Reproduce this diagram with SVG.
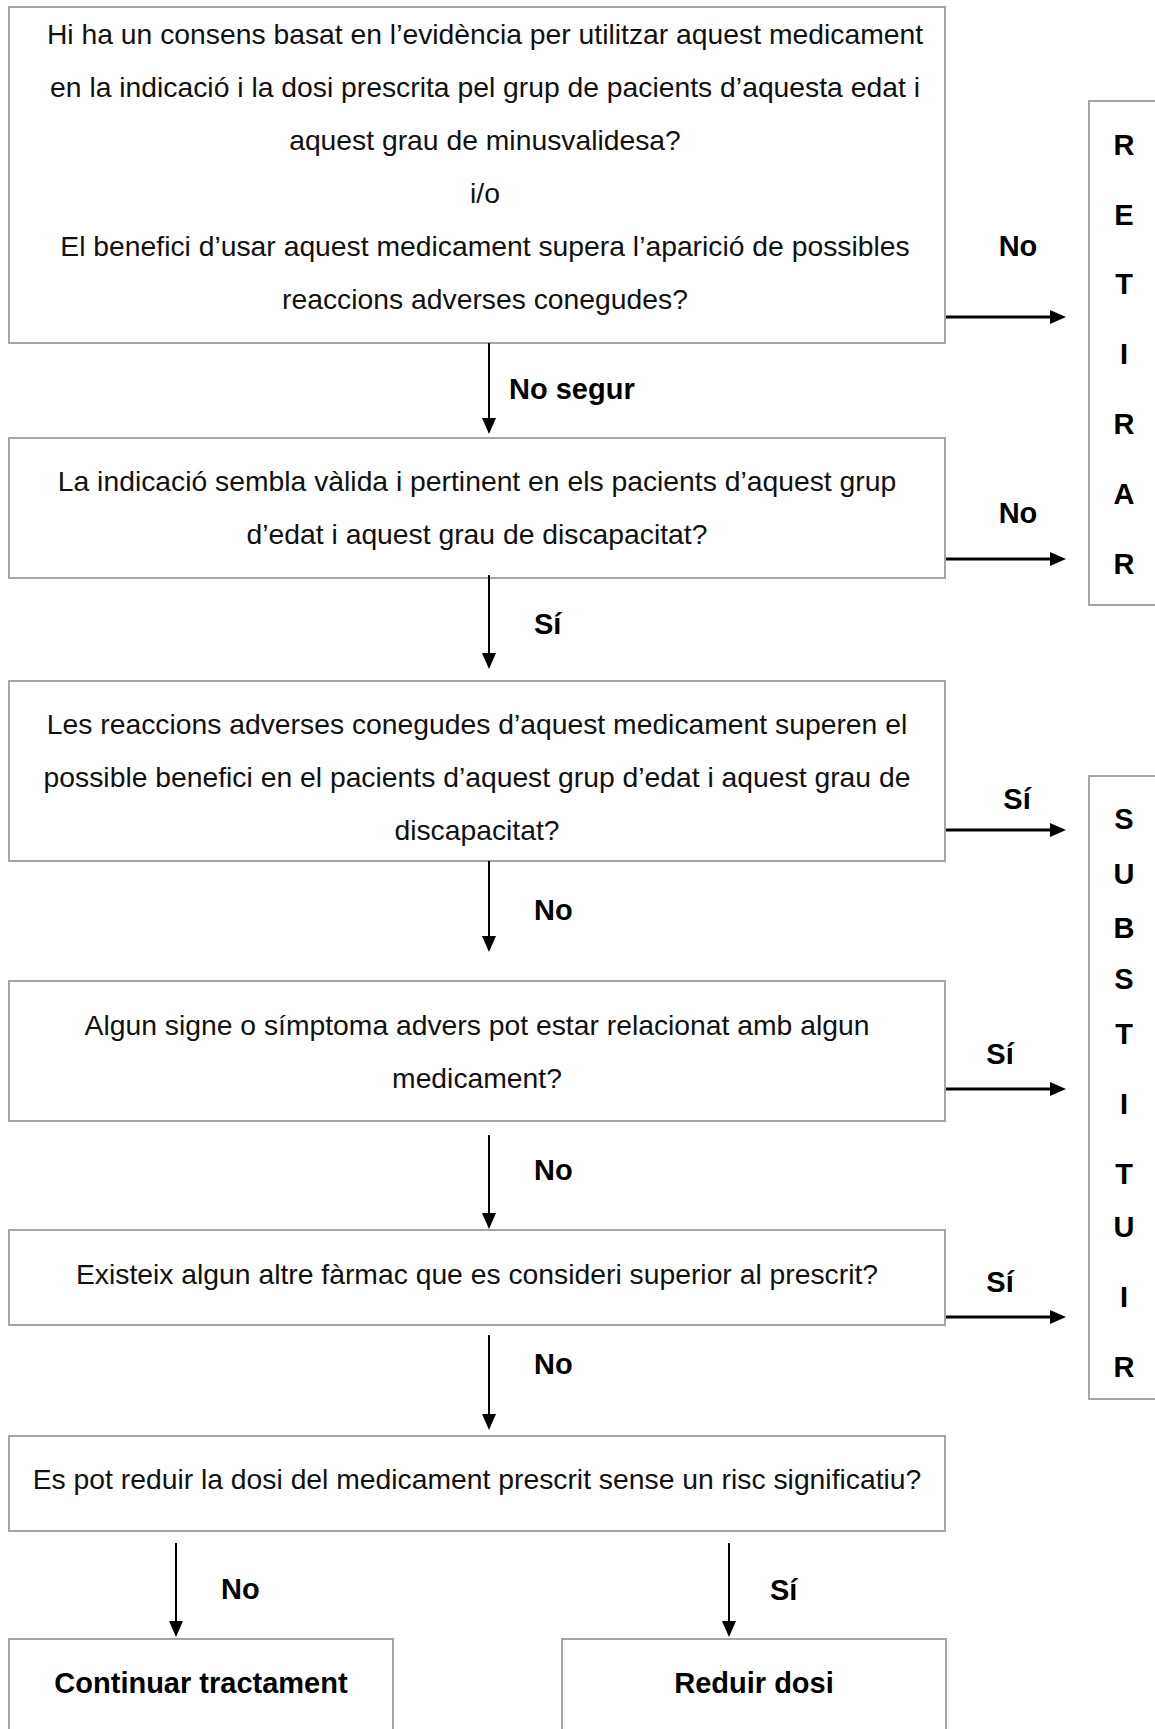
<svg xmlns="http://www.w3.org/2000/svg" width="1155" height="1729" viewBox="0 0 1155 1729">
<style>
.box{fill:#ffffff;stroke:#a6a6a6;stroke-width:2}
.t{font-family:"Liberation Sans",Arial,sans-serif;font-size:28.3px;fill:#111;text-anchor:middle}
.b{font-family:"Liberation Sans",Arial,sans-serif;font-size:29px;font-weight:bold;fill:#000}
.c{text-anchor:middle}
.ah{stroke:#000;stroke-width:3;fill:none}
.av{stroke:#000;stroke-width:2;fill:none}
</style>
<defs>
<marker id="arr" viewBox="0 0 16 14" refX="8" refY="7" markerWidth="16" markerHeight="14" markerUnits="userSpaceOnUse" orient="auto">
<path d="M0,0 L16,7 L0,14 Z" fill="#000"/>
</marker>
</defs>
<rect width="1155" height="1729" fill="#ffffff"/>

<g id="n1">
<rect class="box" x="9" y="7" width="936" height="336"/>
<text class="t" x="485" y="44">Hi ha un consens basat en l’evidència per utilitzar aquest medicament</text>
<text class="t" x="485" y="97">en la indicació i la dosi prescrita pel grup de pacients d’aquesta edat i</text>
<text class="t" x="485" y="150">aquest grau de minusvalidesa?</text>
<text class="t" x="485" y="203">i/o</text>
<text class="t" x="485" y="256">El benefici d’usar aquest medicament supera l’aparició de possibles</text>
<text class="t" x="485" y="309">reaccions adverses conegudes?</text>
</g>

<g id="n2">
<rect class="box" x="9" y="438" width="936" height="140"/>
<text class="t" x="477" y="491">La indicació sembla vàlida i pertinent en els pacients d’aquest grup</text>
<text class="t" x="477" y="544">d’edat i aquest grau de discapacitat?</text>
</g>

<g id="n3">
<rect class="box" x="9" y="681" width="936" height="180"/>
<text class="t" x="477" y="734">Les reaccions adverses conegudes d’aquest medicament superen el</text>
<text class="t" x="477" y="787">possible benefici en el pacients d’aquest grup d’edat i aquest grau de</text>
<text class="t" x="477" y="840">discapacitat?</text>
</g>

<g id="n4">
<rect class="box" x="9" y="981" width="936" height="140"/>
<text class="t" x="477" y="1035">Algun signe o símptoma advers pot estar relacionat amb algun</text>
<text class="t" x="477" y="1088">medicament?</text>
</g>

<g id="n5">
<rect class="box" x="9" y="1230" width="936" height="95"/>
<text class="t" x="477" y="1284">Existeix algun altre fàrmac que es consideri superior al prescrit?</text>
</g>

<g id="n6">
<rect class="box" x="9" y="1436" width="936" height="95"/>
<text class="t" x="477" y="1489">Es pot reduir la dosi del medicament prescrit sense un risc significatiu?</text>
</g>

<g id="n7">
<rect class="box" x="9" y="1639" width="384" height="100"/>
<text class="b c" x="201" y="1693">Continuar tractament</text>
</g>

<g id="n8">
<rect class="box" x="562" y="1639" width="384" height="100"/>
<text class="b c" x="754" y="1693">Reduir dosi</text>
</g>

<g id="retirar">
<rect class="box" x="1089" y="101" width="80" height="504"/>
<text class="b c" x="1124" y="155">R</text>
<text class="b c" x="1124" y="225">E</text>
<text class="b c" x="1124" y="294">T</text>
<text class="b c" x="1124" y="364">I</text>
<text class="b c" x="1124" y="434">R</text>
<text class="b c" x="1124" y="504">A</text>
<text class="b c" x="1124" y="574">R</text>
</g>

<g id="substituir">
<rect class="box" x="1089" y="776" width="80" height="623"/>
<text class="b c" x="1124" y="829">S</text>
<text class="b c" x="1124" y="884">U</text>
<text class="b c" x="1124" y="938">B</text>
<text class="b c" x="1124" y="989">S</text>
<text class="b c" x="1124" y="1044">T</text>
<text class="b c" x="1124" y="1114">I</text>
<text class="b c" x="1124" y="1184">T</text>
<text class="b c" x="1124" y="1237">U</text>
<text class="b c" x="1124" y="1307">I</text>
<text class="b c" x="1124" y="1377">R</text>
</g>

<g id="connectors">
<line class="ah" x1="946" y1="317" x2="1058" y2="317" marker-end="url(#arr)"/>
<line class="ah" x1="946" y1="559" x2="1058" y2="559" marker-end="url(#arr)"/>
<line class="ah" x1="946" y1="830" x2="1058" y2="830" marker-end="url(#arr)"/>
<line class="ah" x1="946" y1="1089" x2="1058" y2="1089" marker-end="url(#arr)"/>
<line class="ah" x1="946" y1="1317" x2="1058" y2="1317" marker-end="url(#arr)"/>
<line class="av" x1="489" y1="343" x2="489" y2="426" marker-end="url(#arr)"/>
<line class="av" x1="489" y1="575" x2="489" y2="661" marker-end="url(#arr)"/>
<line class="av" x1="489" y1="861" x2="489" y2="944" marker-end="url(#arr)"/>
<line class="av" x1="489" y1="1135" x2="489" y2="1221" marker-end="url(#arr)"/>
<line class="av" x1="489" y1="1335" x2="489" y2="1422" marker-end="url(#arr)"/>
<line class="av" x1="176" y1="1543" x2="176" y2="1629" marker-end="url(#arr)"/>
<line class="av" x1="729" y1="1543" x2="729" y2="1629" marker-end="url(#arr)"/>
<text class="b c" x="1018" y="256">No</text>
<text class="b c" x="1018" y="523">No</text>
<text class="b c" x="1017" y="809">Sí</text>
<text class="b c" x="1000" y="1064">Sí</text>
<text class="b c" x="1000" y="1292">Sí</text>
<text class="b" x="509" y="399">No segur</text>
<text class="b" x="534" y="634">Sí</text>
<text class="b" x="534" y="920">No</text>
<text class="b" x="534" y="1180">No</text>
<text class="b" x="534" y="1374">No</text>
<text class="b" x="221" y="1599">No</text>
<text class="b" x="770" y="1600">Sí</text>
</g>
</svg>
